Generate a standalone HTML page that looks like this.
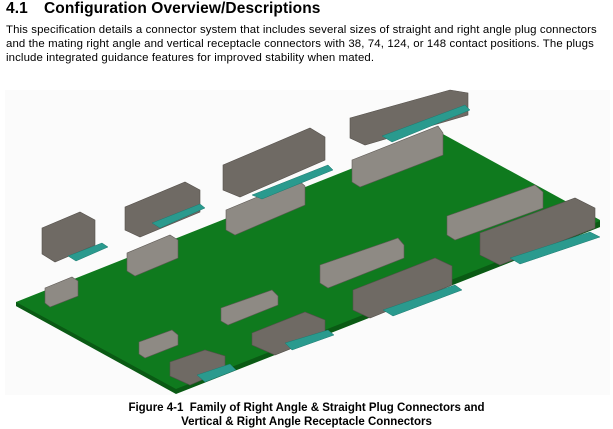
<!DOCTYPE html>
<html><head><meta charset="utf-8"><style>
html,body{margin:0;padding:0;background:#fff;width:613px;height:429px;overflow:hidden;font-family:"Liberation Sans",sans-serif;color:#000}
h1{position:absolute;left:6px;top:0;margin:0;font-size:15.5px;font-weight:bold;letter-spacing:0.1px}
h1 span{display:inline-block;width:38px}
p{position:absolute;left:6px;top:23px;margin:0;width:610px;font-size:11.4px;line-height:14px;white-space:nowrap;letter-spacing:0.12px}
.cap{position:absolute;left:0;width:613px;text-align:center;font-size:11.5px;font-weight:bold;line-height:14px;top:401px}
svg{position:absolute;left:0;top:0}
</style></head><body>
<h1><span>4.1</span>Configuration Overview/Descriptions</h1>
<p>This specification details a connector system that includes several sizes of straight and right angle plug connectors<br>and the mating right angle and vertical receptacle connectors with 38, 74, 124, or 148 contact positions. The plugs<br>include integrated guidance features for improved stability when mated.</p>
<svg width="613" height="429">
<rect x="5" y="90" width="605" height="305" fill="#fbfbfb"/>
<polygon points="16,302 441,133 600,220 600,227 176,393 16,306" fill="#0f7a1e"/>
<polygon points="16,302 176,389 600,221 600,227 176,394 16,306" fill="#0a5a14"/>
<g fill="#6f6a64" stroke="#55504b" stroke-width="0.6">
<polygon points="42,228 80,212 95,220 95,245 55,262 42,254"/>
<polygon points="125,207 185,182 200,190 200,212 140,237 125,230"/>
<polygon points="223,165 310,128 325,137 325,160 240,197 223,190"/>
<polygon points="350,118 450,90 468,93 468,115 365,145 350,138"/>
<polygon points="480,233 575,198 595,208 595,228 500,265 480,255"/>
<polygon points="353,290 435,258 452,266 452,285 370,318 353,310"/>
<polygon points="252,333 305,312 325,320 325,335 275,355 252,345"/>
<polygon points="170,362 205,350 225,356 225,370 190,385 170,376"/>
</g>
<g fill="#8e8a84" stroke="#5f5a55" stroke-width="0.6">
<polygon points="45,288 72,277 78,281 78,296 50,307 45,303"/>
<polygon points="127,253 170,235 178,240 178,258 135,276 127,271"/>
<polygon points="226,210 298,180 305,186 305,205 235,235 226,230"/>
<polygon points="352,160 438,126 443,133 443,155 360,187 352,182"/>
<polygon points="447,216 535,185 543,192 543,208 455,240 447,235"/>
<polygon points="320,265 398,238 404,245 404,258 328,288 320,283"/>
<polygon points="221,308 272,290 278,296 278,305 228,325 221,321"/>
<polygon points="139,342 172,330 178,335 178,345 145,358 139,354"/>
</g>
<g fill="#2a9a8e" stroke="#1d7a70" stroke-width="0.5">
<polygon points="68,256 102,243 108,247 76,261"/>
<polygon points="152,223 200,204 205,208 160,228"/>
<polygon points="252,195 328,165 333,170 262,199"/>
<polygon points="382,136 465,105 470,110 392,142"/>
<polygon points="510,258 590,232 600,237 520,264"/>
<polygon points="383,310 455,285 462,290 393,316"/>
<polygon points="285,343 328,330 334,335 292,350"/>
<polygon points="197,375 230,364 236,370 205,382"/>
</g>
</svg>
<div class="cap">Figure 4-1&nbsp; Family of Right Angle &amp; Straight Plug Connectors and<br>Vertical &amp; Right Angle Receptacle Connectors</div>
</body></html>
